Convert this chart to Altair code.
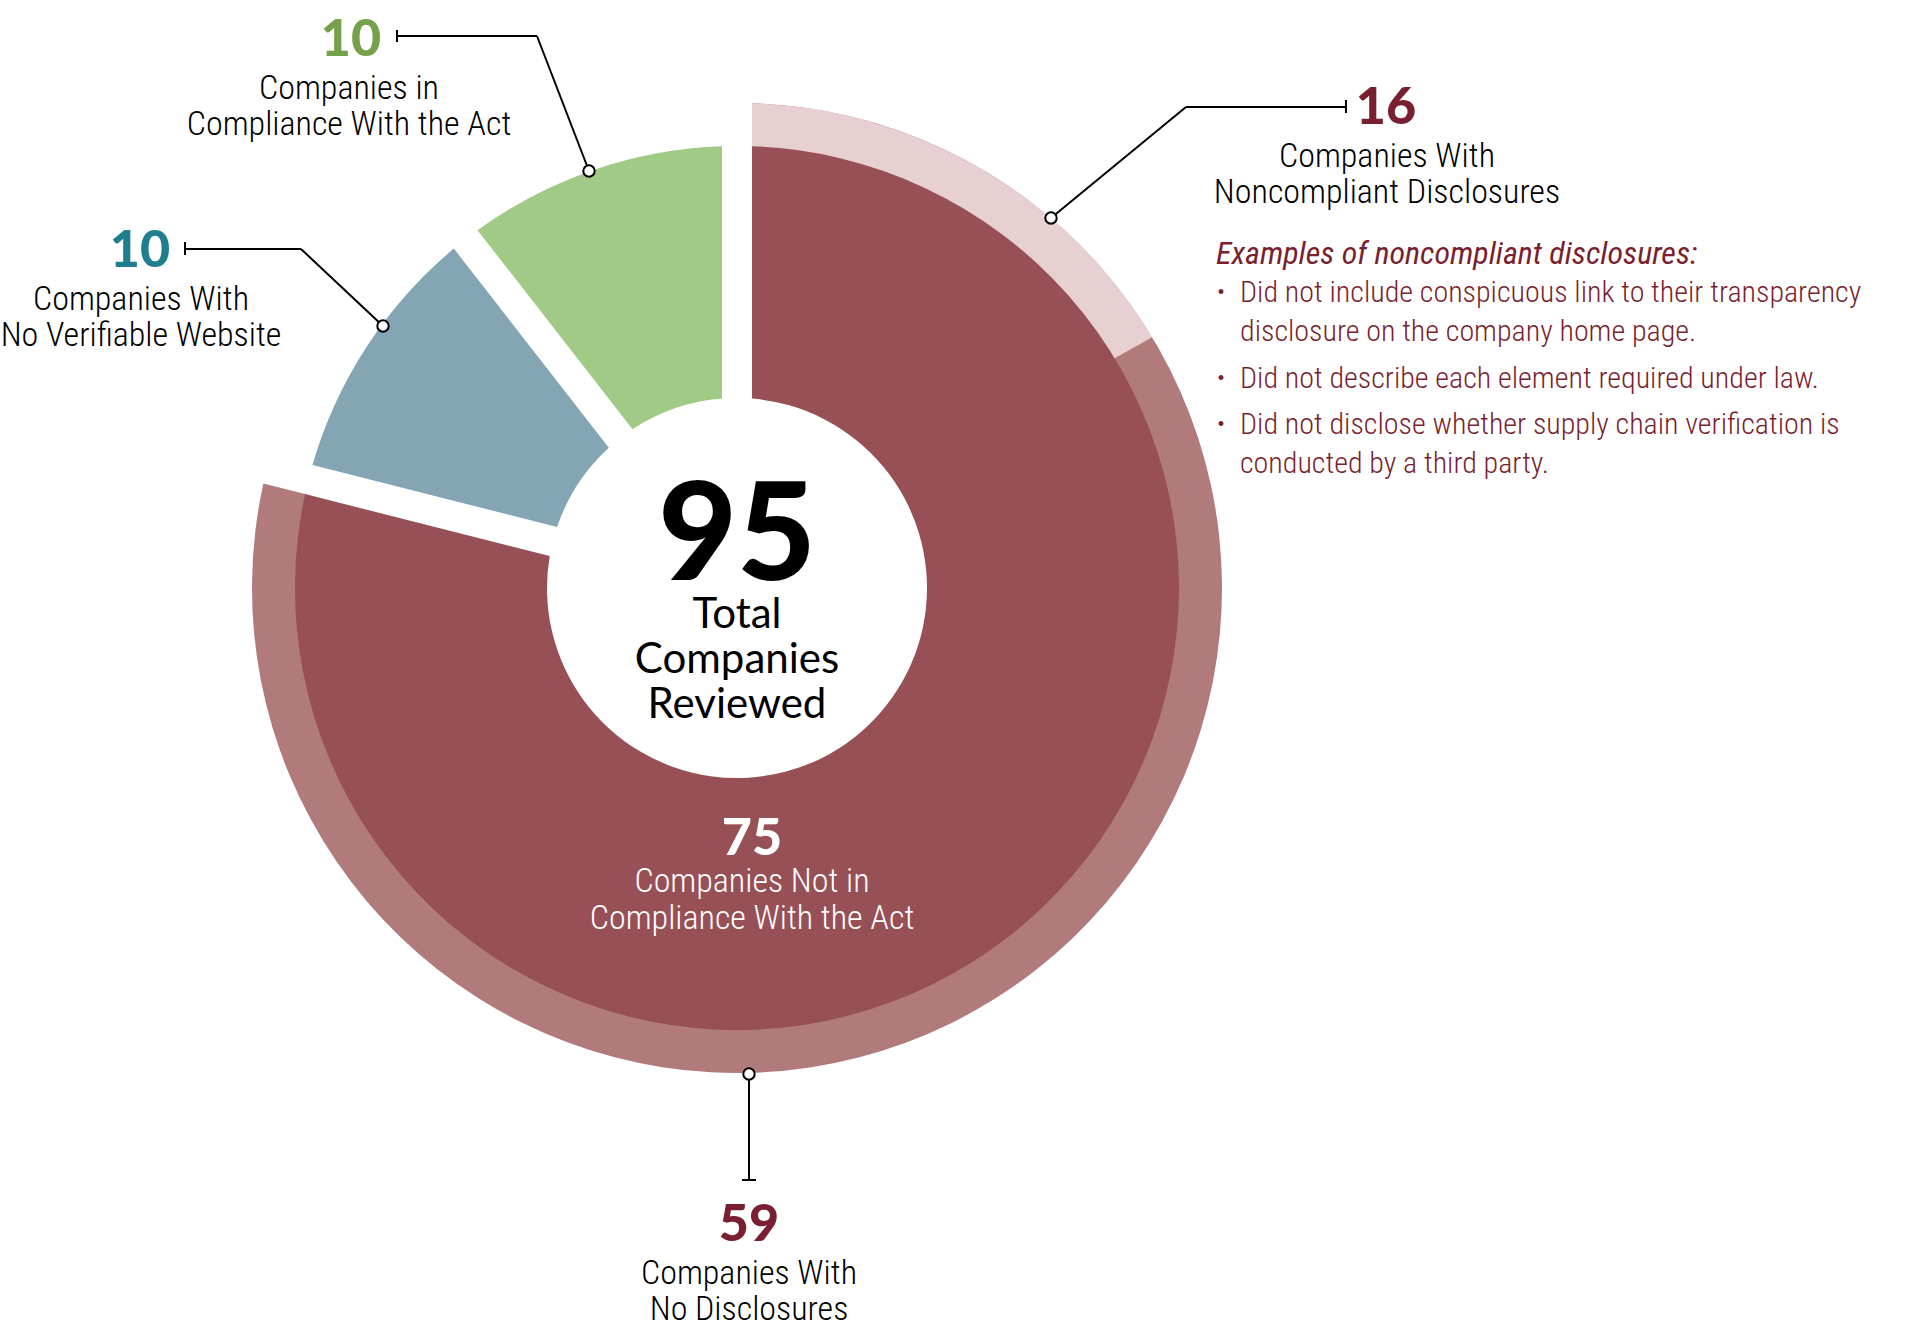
import math
import altair as alt
import pandas as pd

# ---------------- data ----------------
inner_labels = [
    ["Companies Not in", "Compliance With the Act"],
    ["Companies With", "No Verifiable Website"],
    ["Companies in", "Compliance With the Act"],
]
inner_values = [75, 10, 10]
outer_labels = [
    ["Companies With", "Noncompliant Disclosures"],
    ["Companies With", "No Disclosures"],
]
outer_values = [16, 59]
center_label = ["Total", "Companies", "Reviewed"]
examples_title = "Examples of noncompliant disclosures:"
examples = [
    ["Did not include conspicuous link to their transparency",
     "disclosure on the company home page."],
    ["Did not describe each element required under law."],
    ["Did not disclose whether supply chain verification is",
     "conducted by a third party."],
]

total = sum(inner_values)

# ---------------- style / layout ----------------
W, H = 1911, 1327
CX, CY = 737, 588
R_HOLE, R_IN, R_OUT = 190, 442, 485
HALF_GAP = 15

DARK = "#975056"
BLUE = "#84a5b4"
GREEN = "#a1ca86"
MEDIUM = "#b17b7c"
LIGHT = "#e6d0d1"
MAROON = "#7a1f30"
GREEN_TXT = "#77a04a"
BLUE_TXT = "#1f7f8e"

LABEL_FONT = "Roboto Condensed, Liberation Sans Narrow, DejaVu Sans Condensed, Liberation Sans, sans-serif"
NUM_FONT = "Lato, Liberation Sans, sans-serif"
CENTER_FONT = "Lato, Open Sans, sans-serif"
LW = 300  # light label weight

pa_in = 2 * math.asin(HALF_GAP / math.hypot(R_HOLE, R_IN))
pa_out = 2 * math.asin(HALF_GAP / math.hypot(R_IN - 2, R_OUT))

inner_names = [" ".join(l) for l in inner_labels]
inner_df = pd.DataFrame({"category": inner_names, "value": inner_values,
                         "idx": list(range(len(inner_values)))})
ring_df = pd.DataFrame({"part": ["ring", "rest"],
                        "value": [sum(outer_values), total - sum(outer_values)],
                        "idx": [0, 1]})
over_df = pd.DataFrame({"part": ["noncompliant", "rest"],
                        "value": [outer_values[0], total - outer_values[0]],
                        "idx": [0, 1]})

theta = alt.Theta("value:Q", stack=True)
order = alt.Order("idx:Q", sort="ascending")

ring_base = alt.Chart(ring_df).mark_arc(
    innerRadius=R_IN - 2, outerRadius=R_OUT, padAngle=pa_out
).encode(
    theta=theta, order=order,
    x=alt.value(CX), y=alt.value(CY),
    fill=alt.condition(alt.datum.part == "rest", alt.value("rgba(0,0,0,0)"), alt.value(MEDIUM)),
)
ring_over = alt.Chart(over_df).mark_arc(
    innerRadius=R_IN - 2, outerRadius=R_OUT, padAngle=pa_out
).encode(
    theta=theta, order=order,
    x=alt.value(CX), y=alt.value(CY),
    fill=alt.condition(alt.datum.part == "rest", alt.value("rgba(0,0,0,0)"), alt.value(LIGHT)),
)
inner = alt.Chart(inner_df).mark_arc(
    innerRadius=R_HOLE, outerRadius=R_IN, padAngle=pa_in
).encode(
    theta=theta, order=order,
    x=alt.value(CX), y=alt.value(CY),
    color=alt.Color("category:N", scale=alt.Scale(domain=inner_names, range=[DARK, BLUE, GREEN]),
                    legend=None),
)

ONE = pd.DataFrame({"k": [0]})


def txt(lines, x, y, size, color="black", weight=LW, font=LABEL_FONT,
        align="center", style="normal", lh=None):
    t = lines if isinstance(lines, str) else (lines[0] if len(lines) == 1 else list(lines))
    props = dict(align=align, baseline="alphabetic", fontSize=size, font=font,
                 fontWeight=weight, fontStyle=style)
    if lh:
        props["lineHeight"] = lh
    return alt.Chart(ONE).mark_text(**props).encode(
        x=alt.value(x), y=alt.value(y), text=alt.value(t), color=alt.value(color))


def seg(x1, y1, x2, y2):
    return alt.Chart(ONE).mark_rule(color="black", strokeWidth=2).encode(
        x=alt.value(x1), y=alt.value(y1), x2=alt.value(x2), y2=alt.value(y2))


def dot(x, y):
    return alt.Chart(ONE).mark_point(shape="circle", filled=True, fill="white",
                                     stroke="black", strokeWidth=2, size=130, opacity=1).encode(
        x=alt.value(x), y=alt.value(y))


layers = [ring_base, ring_over, inner]

# center
layers.append(txt(str(total), CX, 580, 136, "black", 900, NUM_FONT))
layers.append(txt(center_label, CX, 628, 42, "black", "normal", CENTER_FONT, lh=45))

# 75 inside
layers.append(txt(str(inner_values[0]), 752, 855, 52, "white", 900, NUM_FONT))
layers.append(txt(inner_labels[0], 752, 892, 34, "white", lh=37))

# green (compliance)
layers += [seg(397, 30, 397, 42), seg(397, 36, 537, 36), seg(537, 36, 589, 171), dot(589, 171)]
layers.append(txt(str(inner_values[2]), 351, 56, 52, GREEN_TXT, 900, NUM_FONT))
layers.append(txt(inner_labels[2], 349, 99, 34, "black", lh=36))

# blue (no website)
layers += [seg(185, 242, 185, 255), seg(185, 249, 301, 249), seg(301, 249, 383, 326), dot(383, 326)]
layers.append(txt(str(inner_values[1]), 140, 267, 52, BLUE_TXT, 900, NUM_FONT))
layers.append(txt(inner_labels[1], 141, 310, 34, "black", lh=36))

# 16 noncompliant disclosures
layers += [seg(1346, 100, 1346, 113), seg(1186, 107, 1346, 107), seg(1186, 107, 1051, 218), dot(1051, 218)]
layers.append(txt(str(outer_values[0]), 1386, 124, 52, MAROON, 900, NUM_FONT))
layers.append(txt(outer_labels[0], 1387, 167, 34, "black", lh=36))

# examples
layers.append(txt(examples_title, 1216, 264, 32, MAROON, "normal", LABEL_FONT, align="left", style="italic"))
ys = [302, 388, 434]
for ex, y0 in zip(examples, ys):
    layers.append(txt("\u2022", 1221, y0 - 1, 26, MAROON, align="center"))
    layers.append(txt(ex, 1240, y0, 30, MAROON, align="left", lh=39))

# 59 no disclosures
layers += [seg(749, 1074, 749, 1180), seg(742, 1180, 756, 1180), dot(749, 1074)]
layers.append(txt(str(outer_values[1]), 749, 1241, 52, MAROON, 900, NUM_FONT))
layers.append(txt(outer_labels[1], 749, 1284, 34, "black", lh=36))

chart = alt.layer(*layers).properties(
    width=W, height=H, autosize=alt.AutoSizeParams(type="none"), padding=0,
    background="white",
).configure_view(stroke=None)

chart.save("out.html", embed_options={"renderer": "svg", "actions": False})
